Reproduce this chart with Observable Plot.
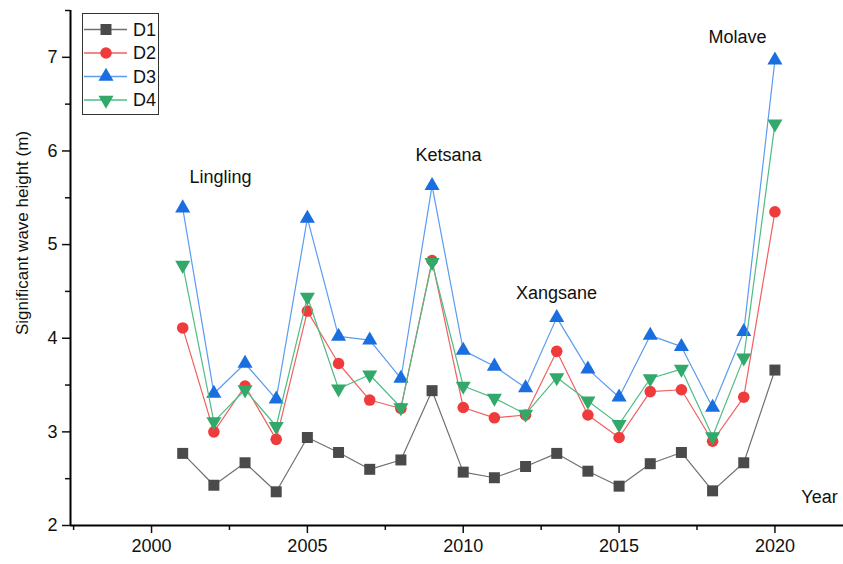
<!DOCTYPE html>
<html>
<head>
<meta charset="utf-8">
<script src="https://cdn.jsdelivr.net/npm/d3@7"></script>
<script src="https://cdn.jsdelivr.net/npm/@observablehq/plot@0.6"></script>
<style>
  body { margin: 0; background: #fff; }
</style>
</head>
<body>
<div id="chart"></div>
<script>
// ---- data ----
const years = [2001, 2002, 2003, 2004, 2005, 2006, 2007, 2008, 2009, 2010,
               2011, 2012, 2013, 2014, 2015, 2016, 2017, 2018, 2019, 2020];
const D1 = [2.77, 2.43, 2.67, 2.36, 2.94, 2.78, 2.60, 2.70, 3.44, 2.57,
            2.51, 2.63, 2.77, 2.58, 2.42, 2.66, 2.78, 2.37, 2.67, 3.66];
const D2 = [4.11, 3.00, 3.49, 2.92, 4.29, 3.73, 3.34, 3.25, 4.83, 3.26,
            3.15, 3.18, 3.86, 3.18, 2.94, 3.43, 3.45, 2.90, 3.37, 5.35];
const D3 = [5.39, 3.41, 3.73, 3.35, 5.28, 4.02, 3.98, 3.57, 5.63, 3.87,
            3.70, 3.47, 4.22, 3.67, 3.37, 4.03, 3.91, 3.26, 4.07, 6.97];
const D4 = [4.78, 3.11, 3.45, 3.06, 4.44, 3.46, 3.61, 3.26, 4.81, 3.49,
            3.36, 3.19, 3.58, 3.33, 3.08, 3.57, 3.67, 2.95, 3.79, 6.29];
const seriesNames = ["D1", "D2", "D3", "D4"];
const seriesValues = [D1, D2, D3, D4];

const xTicks = [2000, 2005, 2010, 2015, 2020];
const xMinorTicks = [1997.5, 2002.5, 2007.5, 2012.5, 2017.5];
const yTicks = [2, 3, 4, 5, 6, 7];
const yMinorTicks = [2.5, 3.5, 4.5, 5.5, 6.5, 7.5];

const annotationLabels = ["Lingling", "Ketsana", "Xangsane", "Molave"];
const annotationYears  = [2002.21, 2009.53, 2012.99, 2018.80];
const annotationValues = [5.72, 5.95, 4.48, 7.21];

const xAxisTitle = "Year";
const yAxisTitle = "Significant wave height (m)";

// ---- build table ----
const rows = [];
seriesNames.forEach((name, s) => {
  years.forEach((yr, i) => rows.push({series: name, year: yr, value: seriesValues[s][i]}));
});
const annotations = annotationLabels.map((label, i) => ({label, year: annotationYears[i], value: annotationValues[i]}));

// ---- styles ----
const downTriangle = {
  draw(ctx, size) {
    const y = Math.sqrt(size / (3 * Math.sqrt(3)));
    ctx.moveTo(0, 2 * y);
    ctx.lineTo(Math.sqrt(3) * y, -y);
    ctx.lineTo(-Math.sqrt(3) * y, -y);
    ctx.closePath();
  }
};
const styleOf = {
  D1: {line: "#707070", fill: "#4a4a4a", symbol: "square", d3symbol: d3.symbolSquare, r: 6.2},
  D2: {line: "#f06060", fill: "#ef3b3b", symbol: "circle", d3symbol: d3.symbolCircle, r: 5.8},
  D3: {line: "#5b9bf0", fill: "#1a6ee0", symbol: "triangle", d3symbol: d3.symbolTriangle, r: 5.6},
  D4: {line: "#4fbc84", fill: "#32a96a", symbol: downTriangle, d3symbol: downTriangle, r: 5.6}
};

const seriesMarks = [];
seriesNames.forEach(name => {
  const st = styleOf[name];
  const sub = rows.filter(d => d.series === name);
  seriesMarks.push(Plot.line(sub, {x: "year", y: "value", stroke: st.line, strokeWidth: 1.2}));
  seriesMarks.push(Plot.dot(sub, {x: "year", y: "value", symbol: st.symbol, r: st.r, fill: st.fill, stroke: "none"}));
});

const FONT = "'Liberation Sans', Arial, Helvetica, sans-serif";

const plot = Plot.plot({
  width: 843,
  height: 564,
  marginLeft: 70,
  marginRight: 0,
  marginTop: 10,
  marginBottom: 39,
  style: {fontFamily: FONT, fontSize: "18px", color: "#111", background: "#fff", overflow: "visible"},
  x: {domain: [1997.4, 2022.2]},
  y: {domain: [2, 7.5]},
  marks: [
    Plot.axisX({ticks: xMinorTicks, tickSize: 5, tickFormat: () => "", strokeWidth: 1.5, label: null}),
    Plot.axisX({ticks: xTicks, tickSize: 8, tickPadding: 6, tickFormat: d => String(d), fontSize: 18, strokeWidth: 1.5, label: null}),
    Plot.axisY({ticks: yMinorTicks, tickSize: 5, tickFormat: () => "", strokeWidth: 1.5, label: null}),
    Plot.axisY({ticks: yTicks, tickSize: 8, tickPadding: 5, tickFormat: d => String(d), fontSize: 18, strokeWidth: 1.5, label: null}),
    Plot.ruleY([2], {strokeWidth: 2, stroke: "#000"}),
    Plot.ruleX([1997.4], {strokeWidth: 2, stroke: "#000"}),
    ...seriesMarks,
    Plot.text(annotations, {x: "year", y: "value", text: "label", fontSize: 18, fill: "#111"}),
    Plot.text([xAxisTitle], {x: 2021.43, y: 2.30, text: d => d, fontSize: 18, fill: "#111"}),
    Plot.text([yAxisTitle], {frameAnchor: "left", textAnchor: "middle", text: d => d, rotate: -90, dx: -48, dy: -35, fontSize: 17, fill: "#111"})
  ]
});

// ---- legend ----
const svg = d3.select(plot);
const lg = svg.append("g").attr("font-family", FONT).attr("font-size", 18).attr("text-anchor", "start");
lg.append("rect").attr("x", 82.5).attr("y", 13.5).attr("width", 76).attr("height", 101)
  .attr("fill", "#fff").attr("stroke", "#333").attr("stroke-width", 1);
seriesNames.forEach((name, i) => {
  const st = styleOf[name];
  const cy = 29.5 + i * 23.5;
  lg.append("line").attr("x1", 84).attr("x2", 127).attr("y1", cy).attr("y2", cy)
    .attr("stroke", st.line).attr("stroke-width", 1.3);
  lg.append("path").attr("transform", `translate(106,${cy})`)
    .attr("d", d3.symbol().type(st.d3symbol).size(Math.PI * st.r * st.r)())
    .attr("fill", st.fill);
  lg.append("text").attr("x", 133).attr("y", cy).attr("dy", "0.35em").attr("fill", "#111").text(name);
});

document.getElementById("chart").appendChild(plot);
</script>
</body>
</html>
